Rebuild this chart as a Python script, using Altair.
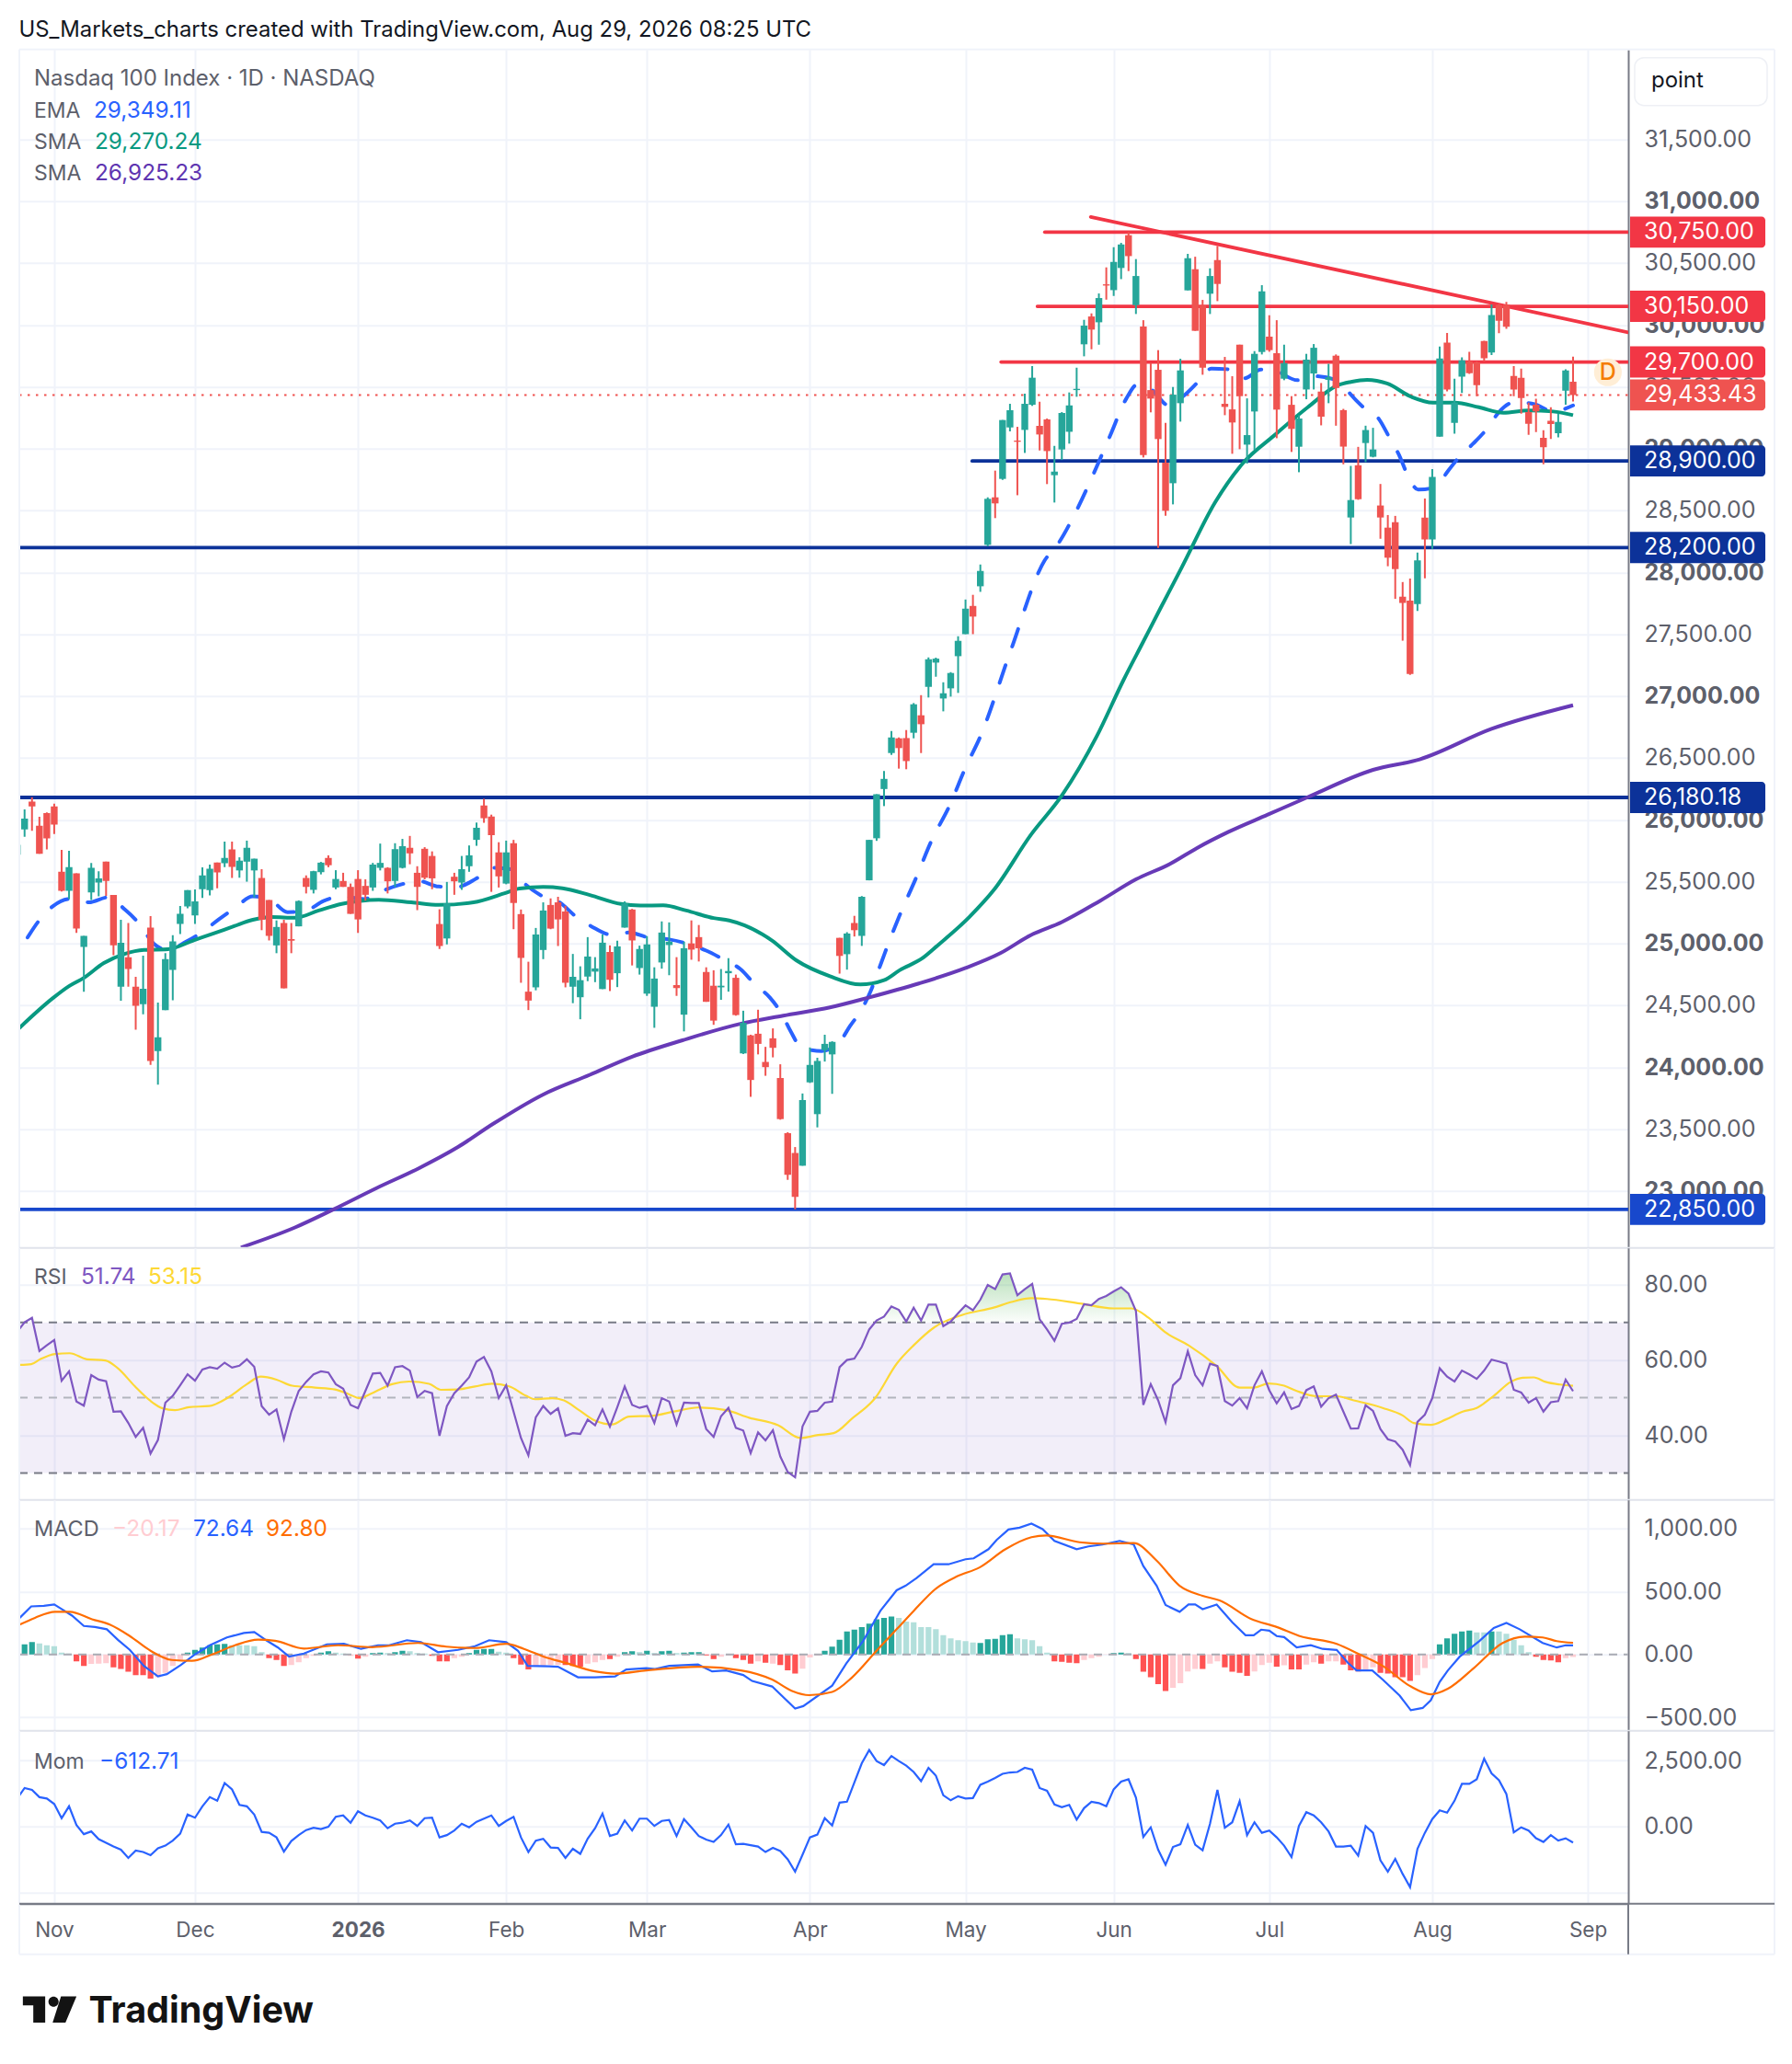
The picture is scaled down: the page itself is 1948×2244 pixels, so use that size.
import altair as alt
import pandas as pd

# ---------- candles (bar index = position in the lists) ----------
highs = [25820,26084,26182,26023,26060,26129,25757,25749,25566,25061,
25651,25584,25661,25391,25191,25165,24730,24902,25221,24522,
24921,25067,25303,25430,25436,25614,25638,25653,25823,25823,
25696,25831,25685,25600,25351,25186,25191,25165,25348,25550,
25587,25659,25712,25592,25571,25484,25592,25518,25651,25807,
25616,25810,25845,25869,25624,25778,25744,25276,25497,25571,
25707,25792,25977,26169,26041,25818,25831,25837,25274,24852,
25125,25332,25364,25377,25303,24915,24815,25051,24889,25072,
24984,25022,25340,25279,24982,25059,24807,25178,25170,24889,
25014,25186,25149,24807,24783,24793,24881,24748,24456,24262,
24464,24164,24313,24023,23474,23354,23787,24159,24076,24262,
24209,25045,25091,25223,25383,25837,26206,26394,26717,26665,
26725,26943,27007,27312,27310,27111,27193,27483,27780,27818,
28063,28606,28822,29231,29362,29176,29444,29667,29379,29243,
29022,29295,29454,29654,30041,30093,30254,30465,30628,30663,
30750,30532,30038,29692,29796,29208,29498,29726,30574,30551,
30202,30457,30638,29741,29585,29840,29406,29788,30321,30078,
30038,29840,29424,29270,29766,29845,29530,29685,29761,29321,
28860,29014,29185,29168,28714,28463,28456,27921,27949,28159,
28597,28835,29825,29935,29564,29738,29782,29705,29871,30166,
30171,30186,29667,29646,29372,29403,29149,29334,29283,29641,29743]
lows = [25690,25863,25911,25725,25760,25884,25420,25359,25085,24610,
25351,25380,25385,24905,24536,24650,24302,24427,24018,23859,
24461,24541,25075,25284,25157,25367,25388,25446,25616,25529,
25531,25499,25372,25107,25024,24921,24637,24921,25138,25404,
25404,25558,25616,25438,25457,25239,25085,25346,25425,25590,
25404,25457,25606,25640,25269,25518,25438,24955,24992,25393,
25433,25579,25789,25975,25417,25452,25478,25115,24682,24461,
24621,24873,25115,24979,24645,24517,24387,24695,24687,24631,
24615,24647,25128,24822,24748,24576,24318,24796,24743,24576,
24289,24868,24854,24528,24342,24544,24610,24416,24106,23760,
24103,23930,24079,23575,23089,22850,23203,23872,23513,24045,
23784,24756,24788,25056,24980,25510,25829,26110,26524,26413,
26408,26658,26539,26988,27156,26876,26995,27025,27500,27500,
27842,28210,28438,28747,29139,28623,28965,29345,28985,28713,
28564,28908,29040,29419,29746,29803,29840,30204,30234,30370,
30435,30088,28928,29293,28197,28457,28549,29218,30279,29952,
29597,30088,30192,29270,28958,28995,28879,28990,29761,29783,
29084,29553,28973,28809,29399,29478,29188,29367,29185,28873,
28228,28586,28891,28929,28271,28049,27785,27447,27171,27688,
27951,28190,29096,29462,29121,29449,29603,29423,29705,29756,
29933,29969,29423,29283,29111,29134,28873,29078,29091,29354,29380]
body_tops = [25797,26009,26147,25951,26054,26107,25579,25616,25566,25061,
25611,25526,25661,25391,25006,24889,24650,24634,25128,24241,
24873,25016,25239,25430,25340,25550,25603,25653,25691,25760,
25669,25773,25685,25529,25351,25133,25165,25035,25343,25529,
25584,25653,25691,25521,25505,25457,25521,25465,25637,25651,
25611,25762,25786,25773,25571,25765,25707,25157,25324,25539,
25600,25712,25935,26115,26025,25736,25736,25810,25237,24610,
25072,25266,25311,25332,25258,24730,24703,24894,24798,25006,
24931,24976,25324,25274,24955,24992,24716,25088,25014,24663,
24961,25000,25051,24769,24658,24658,24777,24722,24358,24257,
24270,24042,24233,23912,23466,23306,23734,24018,24050,24188,
24204,25045,25080,25165,25377,25837,26206,26330,26665,26658,
26660,26933,26844,27297,27302,27022,27186,27446,27706,27728,
28011,28594,28606,29231,29310,29065,29362,29573,29184,29236,
28814,29288,29349,29483,29994,30068,30217,30328,30509,30650,
30725,30395,29986,29473,29637,28886,29436,29632,30539,30450,
30157,30395,30524,29362,29317,29840,29109,29766,30271,29905,
29771,29691,29354,29243,29719,29815,29461,29577,29751,29311,
28584,28865,29150,28993,28540,28361,28405,27803,27772,28097,
28443,28771,29728,29856,29372,29713,29705,29697,29869,30079,
30161,30161,29587,29572,29295,29354,29088,29224,29216,29631,29541]
body_bottoms = [25717,25922,26107,25725,25850,25961,25425,25425,25120,24971,
25412,25492,25505,24984,24650,24793,24496,24509,24050,24130,
24461,24785,25157,25298,25226,25438,25430,25574,25648,25619,
25590,25661,25590,25191,25061,24984,24637,25022,25138,25457,
25433,25576,25632,25452,25457,25239,25194,25393,25452,25611,
25502,25505,25611,25728,25457,25531,25526,24979,25040,25502,
25492,25624,25837,26012,25876,25542,25484,25327,24883,24538,
24645,24947,25120,25194,24682,24650,24565,24732,24772,24631,
24706,24759,25128,25024,24801,24594,24488,24846,24987,24639,
24424,24950,24961,24528,24376,24645,24759,24421,24111,23896,
24188,24000,24156,23580,23129,22951,23203,23877,23620,24137,
24103,24899,24913,25107,25061,25510,25850,26248,26539,26579,
26474,26703,26772,27074,27270,26980,27062,27322,27500,27642,
27887,28222,28557,28755,29171,29055,29151,29354,29114,28980,
28785,28993,29136,29473,29843,29962,30021,30318,30281,30460,
30556,30160,28948,29404,29077,28497,28720,29367,30279,29952,
29654,30252,30331,29337,29211,29424,29032,29300,29781,29796,
29315,29565,29159,29015,29478,29607,29258,29556,29490,29016,
28443,28591,29045,28934,28443,28118,28026,27752,27178,27744,
28266,28266,29096,29477,29208,29582,29610,29513,29731,29777,
30033,29984,29477,29408,29201,29300,29011,29198,29124,29469,29433]
directions = list(
"GGRRRRRGRG" "GGRRGRRGRG" "GGGGGGGRGR" "GGGRRGRRGR" "GGRGRRRRGG"
"RGGRRRRRGR" "GGGRRRGRRR" "GGRRRGGGGG" "RGGRGGGGGR" "GRRRRGGRGR"
"RRRRRRGGGG" "GRGRGGGGGR" "RGRGGGGGGR" "GGRGGRGGRR" "GGGGGRGRGG"
"RGRRRRGGGR" "RGRRRRGGGR" "RGRGGGRGRR" "GRGGRRRRRG" "RGGRGGRRRG"
"RRRRRRRRGGR")

# ---------- overlays ----------
sma50_bars = [0,4.9,7,9,11.7,14.5,17.1,20.3,23.9,26.5,29.2,31.8,34.4,37.5,40.7,43.8,48.8,53.2,56.9,61.6,65.7,67.8,71,73.6,77.3,81.5,84.1,87.2,90.3,94,96.1,98.2,101.8,105.2,109.7,113.8,117,119.1,122.2,124.3,128.5,131.9,136.8,141,145.7,149.3,152,154.3,157.2,161.7,165.5,169.6,174.2,178.3,180,182.2,184.9,188.2,191.1,194,197.3,200.6,204,207.3,210]
sma50_vals = [24300,24562,24655,24722,24841,24915,24947,24953,25027,25080,25138,25191,25213,25207,25266,25319,25353,25332,25311,25332,25404,25444,25457,25446,25391,25319,25306,25308,25266,25205,25186,25146,25027,24862,24735,24668,24703,24783,24881,24987,25213,25438,25876,26195,26673,27126,27440,27708,28041,28566,28886,29103,29334,29513,29539,29556,29526,29418,29372,29372,29334,29290,29308,29300,29270]
sma200_bars = [30.2,37.5,42.7,48.5,54.2,59.5,64.2,71,77.3,83,89.8,97.6,103.4,109.7,114.9,121.7,128,132.7,136.8,141,146.2,151,155.6,159.2,163.5,168.8,174.1,183,189.3,199,210]
sma200_vals = [22542,22704,22850,23022,23182,23354,23540,23779,23938,24084,24217,24350,24416,24483,24562,24676,24801,24921,25067,25173,25346,25518,25643,25770,25902,26041,26180,26403,26488,26734,26925]
ema_bars = [1.4,2.8,4.8,7,9.7,12.2,14.6,16.4,18.4,20.3,22.8,24.9,27.2,29.4,31.8,33.9,36.5,38.8,41.4,43.9,46.8,49.1,51.9,54.2,56.9,59.4,62,64.2,66.8,68.6,70.8,73.2,75.4,77.5,80.1,82.5,85.4,88,90.6,93,95.4,97.6,99.6,101.6,103.2,104.4,105.9,108.6,111,112.4,114,115.2,116.2,117.1,119.1,121.3,123.4,125.9,128,130,134,138.7,140.4,143,145.3,147.5,149.7,151.2,153.2,155.4,157.4,159.4,161.2,163.3,165.6,167.9,169.5,172.8,175.1,178.7,179.9,181.7,183.8,185.2,186.5,187.6,189.1,191.6,192.9,194.6,196.5,198.4,200,202.2,204.8,207.3,210]
ema_vals = [25048,25173,25300,25359,25332,25372,25271,25165,25000,24947,25014,25088,25194,25287,25380,25364,25253,25261,25345,25380,25359,25420,25478,25505,25460,25457,25526,25611,25598,25478,25385,25332,25218,25138,25072,25088,25045,25032,24995,24942,24868,24793,24668,24562,24430,24289,24156,24130,24204,24331,24469,24615,24775,24921,25226,25526,25829,26121,26421,26673,27350,28098,28222,28502,28799,29102,29404,29518,29473,29349,29424,29540,29647,29642,29568,29639,29634,29553,29585,29539,29444,29334,29239,29091,28950,28796,28668,28689,28801,28929,29039,29162,29295,29377,29359,29300,29349]
level_prices = [30750,30150,29700,28900,28200,26180,22850]
level_starts = [138.7,137.7,132.8,128.9,0.29,0.29,0.29]
level_colors = ["#f23645","#f23645","#f23645","#0c3299","#0c3299","#0c3299","#1848cc"]
tag_prices = [30750,30150,29700,29433.43,28900,28200,26180.18,22850]
tag_texts = ["30,750.00","30,150.00","29,700.00","29,433.43","28,900.00","28,200.00","26,180.18","22,850.00"]
tag_colors = ["#f23645","#f23645","#f23645","#ef5350","#0c3299","#0c3299","#0c3299","#1848cc"]
trend_bars = [144.9,217.45]
trend_vals = [30873,29939]
last_price = [29433.43]

rsi_vals = [67.5,70.0,71.2,62.4,63.9,65.3,54.5,57.0,49.0,47.9,
56.0,54.8,54.4,46.3,46.4,43.3,39.6,42.0,35.2,38.8,
48.7,50.5,53.3,56.2,54.5,57.5,58.1,57.7,59.3,58.0,
58.5,60.2,58.2,47.8,45.5,46.9,39.0,46.3,51.8,54.2,
56.2,57.0,56.7,53.6,52.4,48.1,47.2,51.8,56.4,56.6,
53.2,58.1,58.4,57.2,50.2,51.8,51.2,39.9,47.8,51.2,
53.2,55.4,59.6,60.8,57.0,49.9,53.3,46.3,39.3,34.7,
44.8,47.8,45.7,47.2,39.9,40.6,40.4,44.2,42.7,46.9,
42.3,47.5,53.0,48.1,47.3,47.8,43.3,49.9,49.0,42.9,
48.7,48.6,48.6,41.7,39.6,45.1,47.3,42.0,41.3,35.3,
40.8,38.7,41.4,34.4,30.3,28.9,42.4,46.3,46.5,48.7,
49.0,58.1,60.0,60.4,63.5,68.1,70.5,71.5,74.2,73.3,
70.2,73.9,70.5,74.7,74.7,69.0,70.2,72.4,74.5,73.2,
76.0,79.9,78.8,82.7,83.0,77.2,78.8,80.2,70.8,68.1,
65.1,69.6,69.9,70.9,74.8,74.5,76.2,77.0,78.2,79.3,
77.6,73.0,48.1,53.6,49.3,43.5,53.3,55.2,62.3,56.0,
53.3,59.0,58.4,49.1,47.9,49.9,47.2,53.3,57.0,52.0,
48.5,51.4,47.0,47.8,52.0,53.0,47.6,49.9,50.8,46.3,
41.8,41.9,48.0,46.5,41.7,39.0,38.4,36.2,32.1,43.6,
45.5,49.9,57.8,55.6,54.3,57.2,56.2,55.0,57.2,60.1,
59.6,59.0,52.1,51.4,48.7,49.9,46.3,48.8,49.1,54.8,51.74]
rsi_ma_bars = [0.35,1.9,3.1,5.1,7.1,9.4,11.9,13.6,15.9,17.9,19.6,21.3,23.2,25.9,28.6,31,32.9,35,37.1,40.2,42.9,44.8,46.2,47.9,50.6,52.9,55.6,57.2,59.5,61.8,64.1,66.4,68.7,69.9,72.2,73.8,75.7,78,80.3,82.6,85.7,88.8,91.9,95.7,98.8,102.7,105.7,108.1,110.2,112.7,115.8,118.7,121,123.8,127.6,131.8,134.2,136.9,139,143.4,148,150.4,152.7,155,158.1,161.9,165,167,168.9,171,172.7,175.4,178.1,180.4,184.3,187,188.5,190.8,192.8,195.1,197,199.3,201.6,203.2,204.7,206.3,208.2,210]
rsi_ma_vals = [58.7,58.9,60.2,61.6,61.8,60.2,59.9,57.8,53.0,49.3,47.2,46.7,47.5,47.8,50.2,53.6,55.6,54.8,53.2,52.7,52.2,50.9,49.9,51.2,53.6,54.3,53.7,52.1,52.2,53.0,53.7,53.0,50.5,49.6,49.9,49.3,46.9,43.9,42.9,45.0,45.2,46.4,47.4,46.7,44.7,42.7,39.3,40.1,40.6,44.5,49.9,59.0,63.9,68.7,72.0,73.9,75.4,76.4,76.2,75.0,73.7,73.7,71.2,67.3,63.9,58.4,52.7,52.7,53.8,53.2,51.8,50.4,50.4,49.3,47.3,45.3,43.3,42.8,44.2,46.3,47.3,50.5,54.2,55.3,55.4,54.2,53.5,53.15]
rsi_levels = [70,50,30]
rsi_level_colors = ["#787b86","#b2b5be","#787b86"]
rsi_band = [30,70]

macd_bars = [0.35,1.9,3.6,5,6.1,7.4,9,10.5,12.1,13.6,15.2,17.1,19,20.2,22.1,24,26,28.3,30.6,32,33.7,35.2,36.7,38.7,41.8,44.1,46.4,48.7,50.2,52.6,54.5,56.8,59.5,61.8,63.7,66,67.6,68.9,71.8,73,75.7,78,80.7,82.2,84.9,86.1,88,91.9,93.8,95.7,98,99.2,101.9,105,106.1,110,111.9,114.2,116.5,118.7,119.9,121.4,123.7,125.7,128,129.1,131.1,132.2,133.8,135.3,136.9,138.4,140,143,144.6,146.5,148.8,150.7,152,153.8,155,156.9,158.1,159,160,161.9,164,165.8,166.9,167.9,169,170,171,172.7,174.6,176.2,178.1,179.6,180.8,182.9,184.3,186.6,188.1,189.7,190.8,192,193.1,194.7,197.4,199.3,201,202.8,205.9,207.8,209,210]
macd_vals = [291,382,386,397,357,309,226,218,200,116,36,-91,-175,-157,-84,0,73,135,171,178,109,55,-18,7,80,84,44,73,73,113,98,18,36,65,113,98,29,-91,-95,-98,-182,-182,-175,-120,-109,-116,-91,-80,-135,-127,-164,-211,-255,-430,-411,-248,-73,109,346,510,546,608,717,717,757,764,837,910,994,1008,1041,997,903,837,859,874,903,874,703,546,393,339,397,397,360,397,255,153,153,197,189,146,138,55,73,44,36,-66,-127,-127,-200,-328,-444,-426,-364,-218,-127,-18,109,211,251,200,91,55,73,72.64]
signal_bars = [0.35,2.4,5.1,7.1,10.1,12.5,15.2,18,20.9,23.6,26.3,29.4,32.5,34.8,38.7,43.3,47.9,54.1,57.9,61.8,66,68.4,71.1,74.1,78,80.7,84.9,91.9,97.7,101.9,104.6,106.9,110,112.7,116.1,118.7,121,124.1,126.8,129.9,133.4,136.9,138.9,143.4,146.5,150.7,153.8,156.9,160,162.3,166.5,170,173.1,178.1,181.2,184.3,188.1,190.8,193.1,196.6,200.5,203.5,205.9,207.8,210]
signal_vals = [237,291,339,339,280,237,146,29,-44,-51,0,73,117,109,47,73,58,91,62,51,84,44,-18,-69,-135,-153,-127,-98,-127,-200,-291,-324,-298,-182,36,200,346,528,619,692,837,932,946,892,881,885,746,546,466,430,284,218,146,84,0,-91,-255,-317,-273,-109,91,142,135,106,92.8]
hist_vals = [18,80,98,87,73,66,15,7,-55,-91,
-76,-73,-69,-102,-116,-138,-164,-164,-193,-182,
-146,-91,-55,15,36,55,73,80,84,73,
73,73,66,18,-29,-44,-91,-84,-62,-29,
-11,15,25,15,7,-11,-33,-18,11,15,
11,18,29,25,11,7,-11,-55,-55,-29,
-18,11,36,44,44,22,15,-29,-80,-120,
-91,-91,-84,-84,-84,-91,-98,-73,-62,-44,
-36,-18,18,25,18,29,11,25,29,11,
15,18,18,-7,-36,-18,-7,-29,-44,-73,
-55,-66,-73,-84,-127,-153,-113,-25,-7,29,
62,116,182,197,218,244,280,291,302,291,
262,255,218,218,200,153,127,113,106,95,
91,120,124,153,160,127,120,113,66,15,
-55,-58,-66,-69,-44,-29,-18,-2,11,15,
11,-36,-138,-182,-237,-291,-266,-229,-135,-116,
-116,-73,-55,-102,-138,-146,-171,-135,-84,-66,
-98,-87,-120,-120,-80,-62,-73,-55,-55,-80,
-127,-135,-127,-102,-146,-153,-182,-182,-211,-164,
-109,-36,80,127,164,182,189,175,175,182,
182,164,116,73,18,-18,-44,-47,-62,-29,-20.17]
hist_codes = list(
"GGGgggggRR" "rrrRRRRRRr" "rrrGGGGGGg" "ggggRRRrrr" "rGGggrRrGG"
"gGGgggRRRr" "rGGGGggRRR" "rrrrRRRrrr" "RrGGgGgGGg" "GGGRRrrRRR"
"rRrRRRrrrG" "GGGGGGGGGg" "gggggggggg" "GGGGGggggg" "RRRRrrrrGG"
"gRRRRRrrrr" "RrrRRRRrrr" "RrRRrrRrrR" "RRrrRRRRRr" "rrGGGGGggG"
"gggggRRRRrr")
hist_palette = {"G": "#26a69a", "g": "#b2dfdb", "R": "#ff5252", "r": "#ffcdd2"}
mom_vals = [1059,1458,1389,1111,1059,851,312,764,52,-295,
-191,-486,-625,-764,-885,-1198,-920,-972,-1094,-833,
-729,-538,-278,451,330,764,1111,972,1649,1406,
816,764,451,-208,-243,-417,-955,-556,-330,-139,
-52,-104,-17,365,417,139,573,417,330,226,
-69,104,139,226,17,312,330,-417,-330,-156,
104,-35,174,295,417,17,208,365,-417,-972,
-538,-469,-799,-816,-1198,-851,-1042,-469,-69,486,
-365,-278,226,-156,295,295,17,208,243,-365,
278,-35,-365,-503,-590,-330,69,-677,-660,-712,
-764,-972,-816,-937,-1250,-1719,-1076,-417,-312,312,
35,903,937,1667,2396,2899,2482,2326,2673,
2482,2309,2066,1719,2222,1927,1180,990,1146,1059,
1076,1580,1701,1840,1996,2048,2066,2222,2153,1458,
1354,833,729,816,260,694,937,885,764,1406,
1701,1788,1094,-399,-35,-885,-1458,-781,-677,52,
-694,-903,104,1389,-52,156,955,-330,156,-243,
-156,-417,-729,-1163,17,538,417,156,-191,-764,
-764,-729,-1111,17,-243,-1285,-1719,-1233,-1805,-2309,
-851,-243,278,608,521,972,1614,1614,1788,2569,
2014,1753,1233,-226,-35,-156,-451,-590,-330,-538,
-451,-612.71]

month_bars = [5,24,46,66,85,107,128,148,169,191,212]
month_labels = ["Nov","Dec","2026","Feb","Mar","Apr","May","Jun","Jul","Aug","Sep"]
price_ticks = [31500,31000,30500,30000,29500,29000,28500,28000,27500,27000,26500,26000,25500,25000,24500,24000,23500,23000]

# ---------- layout ----------
LEFT = 20
PW = 1749
FW = 1908
FONT = "Inter"
GRID = "#f0f3fa"
AXC = "#787b86"
LBL = "#5d606b"
AX_SIZE = 25
MON_SIZE = 22.5
NUM = 24.4
TOPS = {"price": 53, "rsi": 1356, "macd": 1630, "mom": 1881, "foot": 2069}
HS = {"price": 1303, "rsi": 274, "macd": 251, "mom": 188, "foot": 55}
x_scale = alt.Scale(domain=[0.29, 217.45], nice=False, zero=False, padding=0)
GREEN, RED = "#26a69a", "#ef5350"

month_expr = "".join(f"datum.value=={b}?'{l}':" for b, l in zip(month_bars, month_labels)) + "''"
axis_x = alt.Axis(values=month_bars, labels=False, ticks=False, domain=False, grid=True,
                  gridColor=GRID, gridWidth=2, title=None)
axis_x_time = alt.Axis(values=month_bars, labelExpr=month_expr, ticks=False, domain=True, domainColor=AXC,
                       domainWidth=2, grid=True, gridColor=GRID, gridWidth=2, title=None,
                       labelFont=FONT, labelFontSize=MON_SIZE, labelColor=LBL, labelPadding=18, labelFlush=False,
                       labelOverlap=False, labelBound=False,
                       labelFontWeight={"condition": {"test": "datum.value==46", "value": 700}, "value": 400})


def axis_y(values, fmt=",.2f", bold=False, expr=None):
    kw = dict(values=values, orient="right", format=fmt, ticks=False, domain=True, domainColor=AXC, domainWidth=2,
              grid=True, gridColor=GRID, gridWidth=2, labelFont=FONT, labelFontSize=AX_SIZE, labelColor=LBL,
              labelPadding=17, labelOverlap=False, labelBound=False, labelFlush=False, title=None)
    if bold:
        kw["labelFontWeight"] = {"condition": {"test": "datum.value % 1000 === 0", "value": 700}, "value": 400}
    if expr:
        kw["labelExpr"] = expr
    return alt.Axis(**kw)


def X(f, axis=axis_x):
    return alt.X(f, type="quantitative", scale=x_scale, axis=axis, title=None)


def txt(s, x, y, panel, color=LBL, size=23, weight=400, align="left"):
    return alt.Chart(pd.DataFrame({"t": [s]})).mark_text(
        align=align, baseline="middle", font=FONT, fontSize=size, color=color, fontWeight=weight
    ).encode(x=alt.value(x - LEFT), y=alt.value(y - TOPS[panel]), text="t:N")


def seg(x1, x2, y1, y2, color, w=2):
    return alt.Chart(pd.DataFrame({"a": [0]})).mark_rule(color=color, strokeWidth=w).encode(
        x=alt.value(x1), x2=alt.value(x2), y=alt.value(y1), y2=alt.value(y2))


def frame(panel, bottom=True, top=False):
    h = HS[panel]
    out = [seg(0, 0, 0, h, GRID), seg(FW, FW, 0, h, GRID)]
    if bottom:
        out.append(seg(0, FW, h, h, "#e0e3eb"))
    if top:
        out.append(seg(0, FW, 0, 0, GRID))
    return out


def ln(bars, vals, color, w=3.3, **kw):
    return alt.Chart(pd.DataFrame({"b": bars, "v": vals})).mark_line(color=color, strokeWidth=w, clip=True, **kw)


# ---------- price panel ----------
y_price = alt.Scale(domain=[22539, 32227], nice=False, zero=False, padding=0)
AX_PRICE = axis_y(price_ticks, bold=True)
Yp = lambda f: alt.Y(f, type="quantitative", scale=y_price, axis=AX_PRICE, title=None)

candles = pd.DataFrame({"b": range(len(highs)), "h": highs, "l": lows, "t": body_tops, "o": body_bottoms, "d": directions})
color_dir = alt.Color("d:N", scale=alt.Scale(domain=["G", "R"], range=[GREEN, RED]), legend=None)

levels = pd.DataFrame({"s": level_starts, "e": [217.45] * 7, "p": level_prices, "c": level_colors})
tags = pd.DataFrame({"p": tag_prices, "t": tag_texts, "c": tag_colors})

price_layers = [
    alt.Chart(levels).mark_rule(strokeWidth=3.8, strokeCap="round", clip=True).encode(
        x=X("s"), x2=alt.X2("e"), y=Yp("p"), color=alt.Color("c:N", scale=None)),
    ln(trend_bars, trend_vals, "#f23645", 3.8, strokeCap="round").encode(x=X("b"), y=Yp("v")),
    alt.Chart(pd.DataFrame({"s": [0.29], "e": [217.45], "p": last_price})).mark_rule(
        color=RED, strokeWidth=2, strokeDash=[2.5, 6.5], clip=True).encode(x=X("s"), x2=alt.X2("e"), y=Yp("p")),
    ln(ema_bars, ema_vals, "#2962ff", 4, strokeDash=[20, 22], strokeCap="round", interpolate="monotone").encode(x=X("b"), y=Yp("v")),
    ln(sma50_bars, sma50_vals, "#089981", 4, interpolate="monotone").encode(x=X("b"), y=Yp("v")),
    ln(sma200_bars, sma200_vals, "#673ab7", 4, interpolate="monotone").encode(x=X("b"), y=Yp("v")),
    alt.Chart(candles).mark_rule(strokeWidth=2, clip=True).encode(x=X("b"), y=Yp("h"), y2=alt.Y2("l"), color=color_dir),
    alt.Chart(candles).mark_bar(size=7.4, clip=True).encode(x=X("b"), y=Yp("t"), y2=alt.Y2("o"), color=color_dir),
    alt.Chart(tags).transform_calculate(lo="datum.p-126", hi="datum.p+126").mark_rect(
        cornerRadiusTopRight=4, cornerRadiusBottomRight=4).encode(
        x=alt.value(1751), x2=alt.value(1898), y=Yp("hi:Q"), y2=alt.Y2("lo:Q"), color=alt.Color("c:N", scale=None)),
    alt.Chart(tags).mark_text(align="left", baseline="middle", font=FONT, fontSize=AX_SIZE, color="white").encode(
        x=alt.value(1766), y=Yp("p"), text="t:N"),
    alt.Chart(pd.DataFrame({"b": [214.7], "v": [29617]})).mark_circle(size=908, color="#ffeed6", opacity=1).encode(
        x=X("b"), y=Yp("v")),
    alt.Chart(pd.DataFrame({"b": [214.7], "v": [29617], "t": ["D"]})).mark_text(
        font=FONT, fontSize=25, fontWeight=500, color="#f57c00", baseline="middle").encode(x=X("b"), y=Yp("v"), text="t:N"),
    alt.Chart(pd.DataFrame({"a": [0]})).mark_rect(fill="white", stroke="#eef0f5", strokeWidth=1.5, cornerRadius=10).encode(
        x=alt.value(1756), x2=alt.value(1900), y=alt.value(9), y2=alt.value(61)),
    txt("point", 1794, 87, "price", color="#131722", size=24),
    txt("Nasdaq 100 Index · 1D · NASDAQ", 36, 85, "price", size=24),
    txt("EMA", 36, 120, "price", size=23),
    txt("29,349.11", 101, 120, "price", "#2962ff", NUM),
    txt("SMA", 36, 154, "price", size=23),
    txt("29,270.24", 102, 154, "price", "#089981", NUM),
    txt("SMA", 36, 188, "price", size=23),
    txt("26,925.23", 102, 188, "price", "#5e35b1", NUM),
    txt("US_Markets_charts created with TradingView.com, Aug 29, 2026 08:25 UTC", 19.5, 32, "price", "#131722", 23.9),
] + frame("price", top=True)
price = alt.layer(*price_layers).properties(width=PW, height=HS["price"])

# ---------- RSI ----------
y_rsi = alt.Scale(domain=[22.9, 89.75], nice=False, zero=False, padding=0)
AX_RSI = axis_y([80, 60, 40], ".2f")
Yr = lambda f: alt.Y(f, type="quantitative", scale=y_rsi, axis=AX_RSI, title=None)
rsi_df = pd.DataFrame({"b": range(len(rsi_vals)), "v": rsi_vals})
rsi_df["hi"] = rsi_df["v"].clip(lower=70)
rsi_df["base"] = 70
ob_fill = alt.LinearGradient(gradient="linear", x1=0, x2=0, y1=0, y2=1, stops=[
    alt.GradientStop(color="rgba(76,175,80,0.38)", offset=0), alt.GradientStop(color="rgba(76,175,80,0.02)", offset=1)])
rsi_layers = [
    alt.Chart(pd.DataFrame({"lo": [rsi_band[0]], "hi": [rsi_band[1]]})).mark_rect(color="#7e57c2", opacity=0.1).encode(
        x=alt.value(0), x2=alt.value(PW), y=Yr("hi"), y2=alt.Y2("lo")),
    alt.Chart(rsi_df).mark_area(color=ob_fill, clip=True).encode(x=X("b"), y=Yr("hi"), y2=alt.Y2("base")),
    alt.Chart(pd.DataFrame({"v": rsi_levels, "c": rsi_level_colors})).mark_rule(strokeWidth=2, strokeDash=[9, 7]).encode(
        x=alt.value(0), x2=alt.value(PW), y=Yr("v"), color=alt.Color("c:N", scale=None)),
    ln(rsi_ma_bars, rsi_ma_vals, "#fdd835", 2.2, interpolate="monotone").encode(x=X("b"), y=Yr("v")),
    alt.Chart(rsi_df).mark_line(color="#7e57c2", strokeWidth=2.2, clip=True).encode(x=X("b"), y=Yr("v")),
    txt("RSI", 36, 1388, "rsi"),
    txt("51.74", 87, 1388, "rsi", "#7e57c2", NUM),
    txt("53.15", 160, 1388, "rsi", "#fdd835", NUM),
] + frame("rsi")
rsi = alt.layer(*rsi_layers).properties(width=PW, height=HS["rsi"])

# ---------- MACD ----------
y_macd = alt.Scale(domain=[-607, 1229], nice=False, zero=False, padding=0)
AX_MACD = axis_y([1000, 500, 0, -500])
Ym = lambda f: alt.Y(f, type="quantitative", scale=y_macd, axis=AX_MACD, title=None)
hist_df = pd.DataFrame({"b": range(len(hist_vals)), "v": hist_vals, "z": [0] * len(hist_vals),
                        "c": [hist_palette[k] for k in hist_codes]})
macd_layers = [
    alt.Chart(hist_df).mark_bar(size=6.2, clip=True).encode(
        x=X("b"), y=Ym("v"), y2=alt.Y2("z"), color=alt.Color("c:N", scale=None)),
    alt.Chart(pd.DataFrame({"v": [0]})).mark_rule(color="#a9abb3", strokeWidth=2, strokeDash=[9, 7]).encode(
        x=alt.value(0), x2=alt.value(PW), y=Ym("v")),
    ln(macd_bars, macd_vals, "#2962ff", 2.2).encode(x=X("b"), y=Ym("v")),
    ln(signal_bars, signal_vals, "#ff6d00", 2.2, interpolate="monotone").encode(x=X("b"), y=Ym("v")),
    txt("MACD", 36, 1662, "macd", size=23.5),
    txt("\u221220.17", 121, 1662, "macd", "#ffcdd2", NUM),
    txt("72.64", 209, 1662, "macd", "#2962ff", NUM),
    txt("92.80", 288, 1662, "macd", "#ff6d00", NUM),
] + frame("macd")
macd = alt.layer(*macd_layers).properties(width=PW, height=HS["macd"])

# ---------- Momentum ----------
y_mom = alt.Scale(domain=[-2933, 3631], nice=False, zero=False, padding=0)
mom_layers = [
    alt.Chart(pd.DataFrame({"b": range(len(mom_vals)), "v": mom_vals})).mark_line(color="#2962ff", strokeWidth=2.2, clip=True).encode(
        x=X("b", axis_x_time),
        y=alt.Y("v", type="quantitative", scale=y_mom, title=None,
                axis=axis_y([2500, 0, -2500], expr="datum.value < -1000 ? '' : format(datum.value, ',.2f')"))),
    txt("Mom", 36, 1915, "mom"),
    txt("\u2212612.71", 107, 1915, "mom", "#2962ff", NUM),
] + frame("mom", bottom=False)
mom = alt.layer(*mom_layers).properties(width=PW, height=HS["mom"])

# ---------- footer / logo ----------
logo_path = ("M-1,-.489H-.167V.489H-.611V-.156H-1Z"
             "M-.046,-.289A.19,.19 0 1 1 .334,-.289A.19,.19 0 1 1 -.046,-.289Z"
             "M1,-.489H.422L.111,.489H.589Z")
foot_layers = [
    seg(0, FW, 55, 55, GRID), seg(0, 0, 0, 55, GRID), seg(FW, FW, 0, 55, GRID),
    seg(0, FW, 0, 0, AXC), seg(PW, PW, 0, 55, AXC),
    alt.Chart(pd.DataFrame({"a": [0]})).mark_point(shape=logo_path, size=3400, filled=True, color="#131313", opacity=1).encode(
        x=alt.value(33), y=alt.value(115)),
    txt("TradingView", 95.5, 2186, "foot", "#131313", 39.5, 700),
]
foot = alt.layer(*foot_layers).properties(width=PW, height=HS["foot"])

chart = alt.vconcat(price, rsi, macd, mom, foot, spacing=0, bounds="flush").properties(
    padding={"left": 12, "top": 12.7, "right": 0, "bottom": 12}, background="white"
).configure_view(stroke=None)

chart.save("out.html", embed_options={"renderer": "svg", "actions": False})
